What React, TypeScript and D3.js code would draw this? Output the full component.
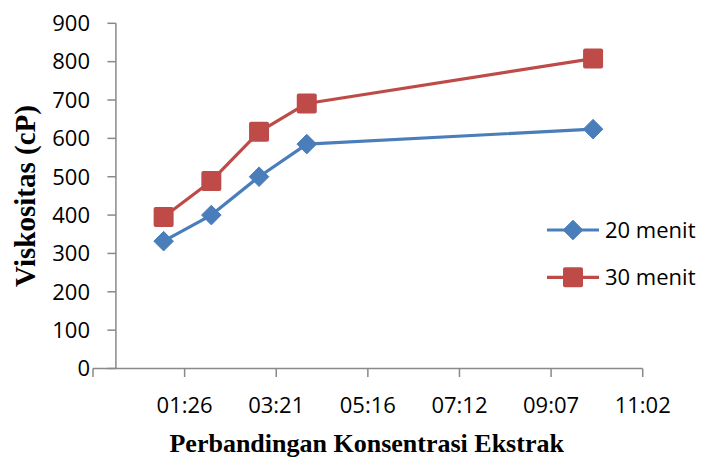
import React from 'react';
import * as d3 from 'd3';

// x values are hours (Excel treated the ratios as times of day)
const xHours = [1, 2, 3, 4, 10];
const series20 = [332, 400, 500, 585, 624];
const series30 = [395, 489, 617, 691, 808];
const seriesNames = ['20 menit', '30 menit'];

const xTickValues = [-0.48, 1.44, 3.36, 5.28, 7.2, 9.12, 11.04];
const xTickLabels = ['', '01:26', '03:21', '05:16', '07:12', '09:07', '11:02'];
const yTickValues = [0, 100, 200, 300, 400, 500, 600, 700, 800, 900];

const W = 704;
const H = 458;
const blue = '#4A7EBB';
const red = '#BE4B48';
const axisColor = '#898989';
const tickFont = '"Open Sans", "Liberation Sans", sans-serif';
const titleFont = '"Liberation Serif", "Times New Roman", serif';

const diamond = (cx: number, cy: number, r: number) =>
  `M${cx},${cy - r}L${cx + r},${cy}L${cx},${cy + r}L${cx - r},${cy}Z`;

export default function App() {
  const x = d3.scaleLinear().domain([-0.48, 11.04]).range([93, 642.7]);
  const y = d3.scaleLinear().domain([0, 900]).range([368.5, 23.3]);

  const line = d3
    .line<number>()
    .x((_, i) => x(xHours[i]))
    .y((d) => y(d));

  const x0 = x(0);

  return (
    <svg width={W} height={H} style={{ position: 'absolute', left: 0, top: 0, background: '#fff' }}>
      {/* y axis */}
      <line x1={x0} x2={x0} y1={y(900)} y2={y(0)} stroke={axisColor} strokeWidth={1.5} />
      {yTickValues.map((v) => (
        <g key={v}>
          <line x1={x0 - 8.5} x2={x0} y1={y(v)} y2={y(v)} stroke={axisColor} strokeWidth={1.5} />
          <text
            x={90}
            y={y(v) + 7.8}
            textAnchor="end"
            fontFamily={tickFont}
            fontSize={22}
            fill="#000"
          >
            {v}
          </text>
        </g>
      ))}

      {/* x axis */}
      <line x1={x(-0.48)} x2={x(11.04)} y1={y(0)} y2={y(0)} stroke={axisColor} strokeWidth={1.5} />
      {xTickValues.map((v, i) => (
        <g key={v}>
          <line x1={x(v)} x2={x(v)} y1={y(0)} y2={y(0) + 8.5} stroke={axisColor} strokeWidth={1.5} />
          <text
            x={x(v)}
            y={412.5}
            textAnchor="middle"
            fontFamily={tickFont}
            fontSize={22}
            fill="#000"
          >
            {xTickLabels[i]}
          </text>
        </g>
      ))}

      {/* series 20 menit */}
      <path d={line(series20) || ''} fill="none" stroke={blue} strokeWidth={3.2} strokeLinejoin="round" />
      {series20.map((v, i) => (
        <path key={'b' + i} d={diamond(x(xHours[i]), y(v), 9.8)} fill={blue} stroke={blue} strokeWidth={1} strokeLinejoin="round" />
      ))}

      {/* series 30 menit */}
      <path d={line(series30) || ''} fill="none" stroke={red} strokeWidth={3.2} strokeLinejoin="round" />
      {series30.map((v, i) => (
        <rect key={'r' + i} x={x(xHours[i]) - 10} y={y(v) - 10} width={20} height={20} rx={2} fill={red} />
      ))}

      {/* legend */}
      <g>
        <line x1={547} x2={599} y1={230} y2={230} stroke={blue} strokeWidth={3.2} />
        <path d={diamond(573, 230, 9.8)} fill={blue} stroke={blue} strokeWidth={1} strokeLinejoin="round" />
        <text x={605} y={237.5} fontFamily={tickFont} fontSize={22} fill="#000">{seriesNames[0]}</text>
        <line x1={547} x2={599} y1={277.3} y2={277.3} stroke={red} strokeWidth={3.2} />
        <rect x={563} y={267.3} width={20} height={20} rx={2} fill={red} />
        <text x={605} y={284.8} fontFamily={tickFont} fontSize={22} fill="#000">{seriesNames[1]}</text>
      </g>

      {/* axis titles */}
      <text
        transform={`translate(35, 196) rotate(-90)`}
        textAnchor="middle"
        fontFamily={titleFont}
        fontWeight="bold"
        fontSize={29}
        fill="#000"
      >
        Viskositas (cP)
      </text>
      <text
        x={366.7}
        y={452}
        textAnchor="middle"
        fontFamily={titleFont}
        fontWeight="bold"
        fontSize={26}
        fill="#000"
      >
        Perbandingan Konsentrasi Ekstrak
      </text>
    </svg>
  );
}
